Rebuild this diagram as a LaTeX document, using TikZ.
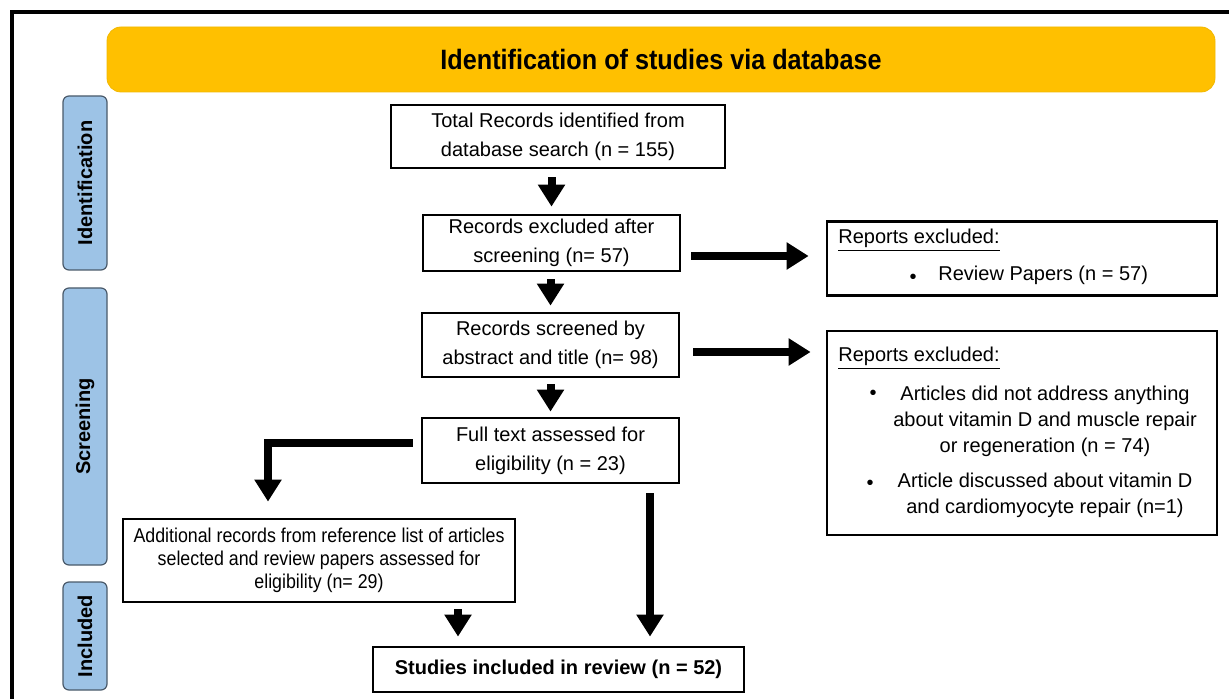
\documentclass[tikz,border=0pt]{standalone}
\usepackage{fontspec}
\setmainfont{Liberation Sans}
\newfontfamily\narrowfont[FakeStretch=0.89]{Liberation Sans}
\newfontfamily\titlefont[FakeStretch=0.9]{Liberation Sans}
\usetikzlibrary{arrows.meta}
\definecolor{bannergold}{HTML}{FFC000}
\definecolor{bannerline}{HTML}{F2B800}
\definecolor{phaseblue}{HTML}{9DC3E6}
\definecolor{phaseline}{HTML}{4A5A6A}

\begin{document}
\begin{tikzpicture}[x=0.5pt,y=-0.5pt,
        box/.style={draw,line width=1.4pt,align=center,inner sep=0pt,font=\fontsize{10pt}{14.5pt}\selectfont},
        note/.style={inner sep=0pt,font=\fontsize{10pt}{13pt}\selectfont},
        phase/.style={draw=phaseline,fill=phaseblue,rounded corners=3pt,line width=0.6pt,rotate=90,minimum height=22pt,inner sep=0pt,font=\fontsize{10pt}{12pt}\selectfont\bfseries},
        bigarrow/.style={line width=4pt,-{Triangle[width=13pt,length=11pt]}}]
        \useasboundingbox (0,0) rectangle (1229,699);
        % frame and banner
        \draw[line width=2.2pt] (12,699) -- (12,12) -- (1229,12);
        \node[draw=bannerline,fill=bannergold,rounded corners=7pt,minimum width=554pt,minimum height=32.5pt,font=\titlefont\fontsize{14pt}{16pt}\selectfont\bfseries] (banner) at (661,59.5) {Identification of studies via database};
        % phases
        \node[phase,minimum width=87pt] (phaseid) at (85,183) {Identification};
        \node[phase,minimum width=138.5pt] (phasescr) at (85,426.5) {Screening};
        \node[phase,minimum width=54pt] (phaseinc) at (85,636) {Included};
        % main column
        \node[box,minimum width=167pt,minimum height=31.5pt] (total) at (558,136.5) {Total Records identified from\\database search (n = 155)};
        \node[box,minimum width=128.5pt,minimum height=28pt] (excl) at (551.5,243) {Records excluded after\\screening (n= 57)};
        \node[box,minimum width=128.5pt,minimum height=32pt] (screened) at (550.5,345) {Records screened by\\abstract and title (n= 98)};
        \node[box,minimum width=128.5pt,minimum height=32.5pt] (full) at (550.5,450.5) {Full text assessed for\\eligibility (n = 23)};
        \node[box,minimum width=196pt,minimum height=41.5pt,font=\narrowfont\fontsize{10pt}{11.5pt}\selectfont] (addl) at (319,560.5) {Additional records from reference list of articles\\selected and review papers assessed for\\eligibility (n= 29)};
        \node[box,minimum width=185.5pt,minimum height=22.5pt,font=\fontsize{10pt}{12pt}\selectfont\bfseries] (studies) at (558.5,669.5) {Studies included in review (n = 52)};
        % excluded reports
        \node[box,minimum width=195pt,minimum height=37pt] (rep1) at (1022,258.5) {};
        \node[note,anchor=west] (rep1head) at (838,240) {\underline{Reports excluded:}};
        \node[note] (rep1dot) at (913,279) {•};
        \node[note,anchor=west] (rep1item) at (938,275) {Review Papers (n = 57)};
        \node[box,minimum width=195pt,minimum height=102pt] (rep2) at (1022,433) {};
        \node[note,anchor=west] (rep2head) at (838,358) {\underline{Reports excluded:}};
        \node[note] (rep2dot1) at (873,395) {•};
        \node[note,align=center] (rep2item1) at (1045,421) {Articles did not address anything\\about vitamin D and muscle repair\\or regeneration (n = 74)};
        \node[note] (rep2dot2) at (870,485) {•};
        \node[note,align=center] (rep2item2) at (1045,495) {Article discussed about vitamin D\\and cardiomyocyte repair (n=1)};
        % arrows
        \draw[bigarrow,shorten <=4pt,shorten >=3.5pt] (total.south -| excl.north) -- (excl.north);
        \draw[bigarrow,shorten <=3.5pt,shorten >=3pt] (excl.south -| screened.north) -- (screened.north);
        \draw[bigarrow,shorten <=3pt,shorten >=2.5pt] (screened.south) -- (full.north);
        \draw[bigarrow,shorten <=5pt,shorten >=8.5pt] ([yshift=-6.5pt]excl.east) -- ([yshift=-6.5pt]excl.east -| rep1.west);
        \draw[bigarrow,shorten <=6.5pt,shorten >=7.5pt] ([yshift=-3.5pt]screened.east) -- ([yshift=-3.5pt]screened.east -| rep2.west);
        \draw[bigarrow,shorten <=4pt,shorten >=8pt] ([yshift=3.75pt]full.west) -| ([xshift=-25.5pt]addl.north);
        \draw[bigarrow,shorten <=3pt,shorten >=4.5pt] ([xshift=69.5pt]addl.south) -- ([xshift=69.5pt]addl.south |- studies.north);
        \draw[bigarrow,shorten <=4.5pt,shorten >=4.5pt] ([xshift=49.75pt]full.south) -- ([xshift=49.75pt]full.south |- studies.north);
\end{tikzpicture}
\end{document}
